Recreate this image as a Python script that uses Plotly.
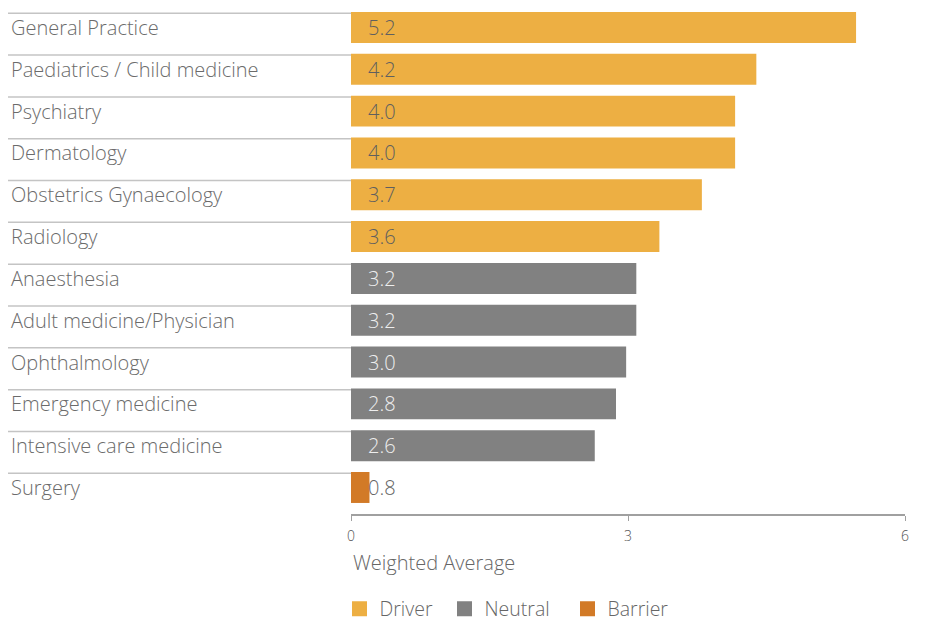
import plotly.graph_objects as go

categories = ["General Practice", "Paediatrics / Child medicine", "Psychiatry", "Dermatology",
              "Obstetrics Gynaecology", "Radiology", "Anaesthesia", "Adult medicine/Physician",
              "Ophthalmology", "Emergency medicine", "Intensive care medicine", "Surgery"]
# bar lengths as drawn against the axis
bar_lengths = [5.47, 4.39, 4.16, 4.16, 3.80, 3.34, 3.09, 3.09, 2.98, 2.87, 2.64, 0.20]
# value labels printed on the bars
value_labels = ["5.2", "4.2", "4.0", "4.0", "3.7", "3.6", "3.2", "3.2", "3.0", "2.8", "2.6", "0.8"]
groups = ["Driver"] * 6 + ["Neutral"] * 5 + ["Barrier"]
group_order = ["Driver", "Neutral", "Barrier"]
colors = {"Driver": "#EDAF43", "Neutral": "#818181", "Barrier": "#D27A27"}
label_colors = {"Driver": "#5f5f5f", "Neutral": "#eeeeee", "Barrier": "#666666"}
x_ticks = [0, 3, 6]

# the page body adds an 8px offset; the figure fills the rest of the window
W, H = 917, 615
ML, MR, MT, MB = 0, 20, 0, 109
plot_w = W - ML - MR
plot_h = H - MT - MB
dom0 = 343 / plot_w
FONT = "Open Sans"
WEIGHT = 300
TXT = 20
bargap = 0.26
legend_x_px = {"Driver": 331.5, "Neutral": 436.5, "Barrier": 559.5}
legend_ids = {"Driver": "legend", "Neutral": "legend2", "Barrier": "legend3"}

fig = go.Figure()
idx = list(range(len(categories)))
for g in group_order:
    ys = [i for i in idx if groups[i] == g]
    fig.add_trace(go.Bar(
        x=[bar_lengths[i] for i in ys], y=ys, orientation="h",
        marker=dict(color=colors[g], line=dict(width=0)),
        showlegend=False, hoverinfo="skip"))
    fig.add_trace(go.Scatter(
        x=[None], y=[None], mode="markers", name=g, legend=legend_ids[g],
        marker=dict(symbol="square", size=15, color=colors[g])))

annotations = []
shapes = []
for i in idx:
    annotations.append(dict(x=1 / plot_w, xref="paper", y=i, yref="y", text=categories[i],
                            showarrow=False, xanchor="left", yanchor="middle",
                            font=dict(family=FONT, size=TXT, color="#6b6b6b", weight=WEIGHT)))
    annotations.append(dict(x=0, xref="x", y=i, yref="y", text=value_labels[i],
                            showarrow=False, xanchor="left", yanchor="middle", xshift=15,
                            font=dict(family=FONT, size=TXT, color=label_colors[groups[i]], weight=WEIGHT)))
    shapes.append(dict(type="line", xref="paper", yref="y", x0=0, x1=dom0,
                       y0=i - (1 - bargap) / 2 + 0.03, y1=i - (1 - bargap) / 2 + 0.03,
                       line=dict(color="#c4c4c4", width=1.5)))

annotations.append(dict(x=dom0, xref="paper", y=-48 / plot_h, yref="paper", text="Weighted Average",
                        showarrow=False, xanchor="left", yanchor="middle",
                        font=dict(family=FONT, size=TXT, color="#666666", weight=WEIGHT)))

legend_common = dict(orientation="h", xanchor="left", y=-95 / plot_h, yanchor="middle",
                     font=dict(family=FONT, size=19.5, color="#666666", weight=WEIGHT),
                     itemwidth=30, bgcolor="rgba(0,0,0,0)")
legends = {}
for g in group_order:
    legends[legend_ids[g]] = dict(legend_common, x=legend_x_px[g] / plot_w)

fig.update_layout(
    width=W, height=H,
    margin=dict(l=ML, r=MR, t=MT, b=MB, autoexpand=False),
    paper_bgcolor="white", plot_bgcolor="white",
    barmode="overlay", bargap=bargap,
    font=dict(family=FONT, color="#666666", weight=WEIGHT),
    xaxis=dict(domain=[dom0, 1], range=[0, 6], tickvals=x_ticks, ticks="outside", ticklen=5,
               tickcolor="#a0a0a0", showline=True, linecolor="#a0a0a0", linewidth=1.5,
               showgrid=False, zeroline=False, automargin=False, ticklabelstandoff=3,
               tickfont=dict(family=FONT, size=14, color="#555555", weight=WEIGHT)),
    yaxis=dict(range=[11.634, -0.4665], showticklabels=False, showgrid=False, zeroline=False,
               showline=False, ticks="", automargin=False),
    annotations=annotations, shapes=shapes,
    **legends,
)

fig.write_html("out.html")
